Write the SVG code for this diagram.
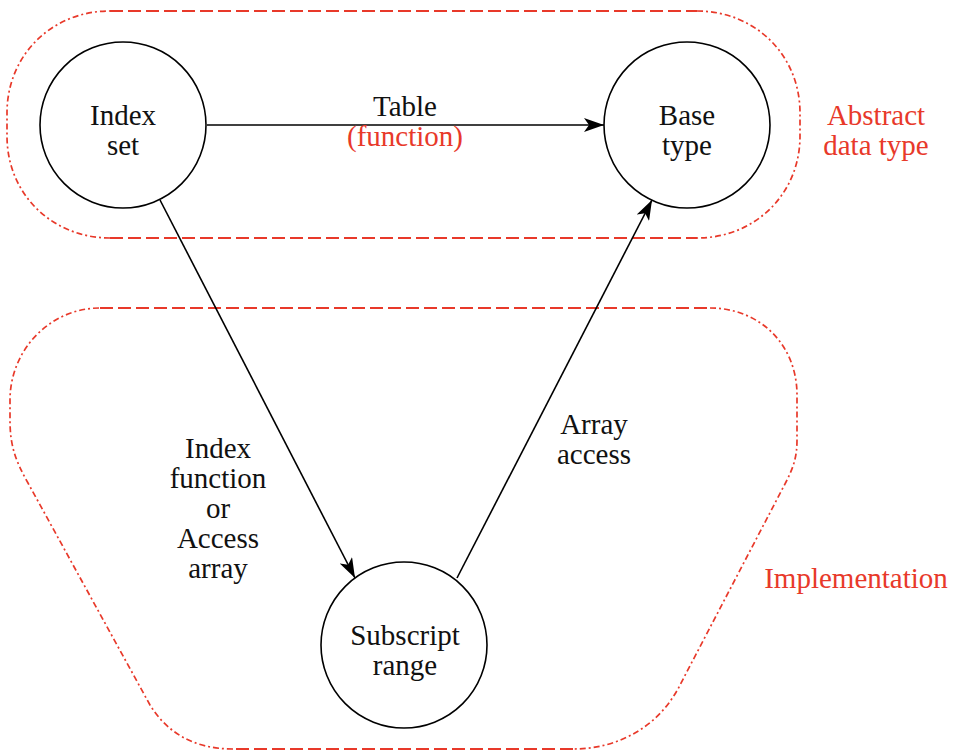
<svg xmlns="http://www.w3.org/2000/svg" width="955" height="750" viewBox="0 0 955 750">
  <style>
    .node { fill: #ffffff; stroke: #000000; stroke-width: 1.6; }
    .lbl { font-family: "Liberation Serif", "Times New Roman", serif; font-size: 29px; fill: #111111; text-anchor: middle; }
    .red { fill: #e8392a; }
    .edge { fill: none; stroke: #000000; stroke-width: 1.6; }
    .dash { fill: none; stroke: #e8392a; stroke-width: 1.9; stroke-dasharray: 13 5; }
    .dashdot { fill: none; stroke: #e8392a; stroke-width: 1.7; stroke-dasharray: 6 3 2 3; }
  </style>
  <defs>
    <marker id="arrow" markerUnits="userSpaceOnUse" markerWidth="22" markerHeight="14" refX="20" refY="7" orient="auto">
      <path d="M0,0 L20,7 L0,14 L5,7 Z" fill="#000000"/>
    </marker>
  </defs>

  <g id="group-abstract">
    <path class="dash" d="M110,11 L697,11 M110,238 L697,238"/>
    <path class="dashdot" d="M697,11 C755,11 800,55 800,113 L800,136 C800,194 755,238 697,238"/>
    <path class="dashdot" d="M110,238 C52,238 7,194 7,136 L7,113 C7,55 52,11 110,11"/>
    <text class="lbl red" x="876" y="125">Abstract</text>
    <text class="lbl red" x="876" y="155">data type</text>
  </g>

  <g id="group-implementation">
    <path class="dash" d="M100,308 L710,308"/>
    <path class="dashdot" d="M710,308 C760,308 797,345 797,395 L797,440 C797,458 793,468 786,482 L680,685 C660,725 620,749 573,749"/>
    <path class="dash" d="M573,749 L233,749"/>
    <path class="dashdot" d="M233,749 C192,749 166,731 150,705 L28,483 C15,460 10,445 10,420 L10,400 C10,350 50,308 100,308"/>
    <text class="lbl red" x="856" y="588">Implementation</text>
  </g>

  <g id="connectors">
    <line class="edge" x1="207" y1="125" x2="604" y2="125" marker-end="url(#arrow)"/>
    <line class="edge" x1="160" y1="200" x2="355" y2="578" marker-end="url(#arrow)"/>
    <line class="edge" x1="457" y1="578" x2="652" y2="200" marker-end="url(#arrow)"/>
    <text class="lbl" x="405" y="116">Table</text>
    <text class="lbl red" x="405" y="146">(function)</text>
    <text class="lbl" x="218" y="458">Index</text>
    <text class="lbl" x="218" y="488">function</text>
    <text class="lbl" x="218" y="518">or</text>
    <text class="lbl" x="218" y="548">Access</text>
    <text class="lbl" x="218" y="578">array</text>
    <text class="lbl" x="594" y="434">Array</text>
    <text class="lbl" x="594" y="464">access</text>
  </g>

  <g id="node-index-set">
    <circle class="node" cx="123" cy="125" r="83"/>
    <text class="lbl" x="123" y="125">Index</text>
    <text class="lbl" x="123" y="155">set</text>
  </g>

  <g id="node-base-type">
    <circle class="node" cx="687" cy="125" r="83"/>
    <text class="lbl" x="687" y="125">Base</text>
    <text class="lbl" x="687" y="155">type</text>
  </g>

  <g id="node-subscript-range">
    <circle class="node" cx="404" cy="645" r="83"/>
    <text class="lbl" x="405" y="645">Subscript</text>
    <text class="lbl" x="405" y="675">range</text>
  </g>
</svg>
